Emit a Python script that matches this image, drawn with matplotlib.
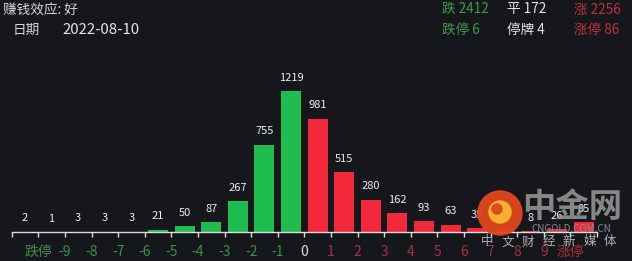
import matplotlib
matplotlib.use("Agg")
import matplotlib.pyplot as plt
from matplotlib.patches import Circle
import numpy as np

plt.rcParams["font.family"] = ["Noto Sans CJK SC", "DejaVu Sans"]

# ── Data ──────────────────────────────────────────────────────────────────────
# bins lie between the labelled edges; first 11 are falling, last 11 rising
down_counts = [2, 1, 3, 3, 3, 21, 50, 87, 267, 755, 1219]
up_counts = [981, 515, 280, 162, 93, 63, 35, 8, 8, 26, 85]
edge_labels = ["", "跌停", "-9", "-8", "-7", "-6", "-5", "-4", "-3", "-2", "-1",
               "0", "1", "2", "3", "4", "5", "6", "7", "8", "9", "涨停", ""]
hidden_labels = [18]  # bin index whose value text is under the watermark

header_left = [("赚钱效应: 好", ""), ("日期", "2022-08-10")]
stats_row1 = [("跌 2412", "down"), ("平 172", "flat"), ("涨 2256", "up")]
stats_row2 = [("跌停 6", "down"), ("停牌 4", "flat"), ("涨停 86", "up")]
wm_title = "中金网"
wm_site = "CNGOLD.COM.CN"
wm_slogan = list("中文财经新媒体")

# ── Style ─────────────────────────────────────────────────────────────────────
BG = "#15171c"
GREEN_BAR = "#1fbd4f"
RED_BAR = "#f4283b"
TXT = {"down": "#3e9b4c", "flat": "#e6e6e6", "up": "#c3303d"}
TICK_DOWN = "#3f8f4b"
TICK_UP = "#a8303c"

W, H = 632, 261
fig = plt.figure(figsize=(W / 100, H / 100), dpi=100, facecolor=BG)

# axes: x 0..22 spans pixel 11.7..597, baseline at pixel y=232
ax_left, ax_right = 11.7 / W, 597 / W
ax_bottom = (H - 232) / H
ax_h_px = 192
ax = fig.add_axes([ax_left, ax_bottom, ax_right - ax_left, ax_h_px / H])
ax.set_facecolor(BG)

values = down_counts + up_counts
colors = [GREEN_BAR] * len(down_counts) + [RED_BAR] * len(up_counts)
x = np.arange(len(values)) + 0.5

ax.bar(x, values, width=0.75, color=colors, zorder=2)
for i, (xi, v) in enumerate(zip(x, values)):
    if i in hidden_labels:
        continue
    ax.annotate(str(v), (xi, v), xytext=(0, 6), textcoords="offset points",
                ha="center", va="bottom", fontsize=8, color="#eeeeee", zorder=3)

ax.set_xlim(0, len(values))
ax.set_ylim(0, max(values) * ax_h_px / 141)
ax.set_xticks(np.arange(len(edge_labels)))
ax.set_xticklabels(edge_labels, fontsize=10)
for i, lbl in enumerate(ax.get_xticklabels()):
    if i < 11:
        lbl.set_color(TICK_DOWN)
    elif i == 11:
        lbl.set_color("#e0e0e0")
    else:
        lbl.set_color(TICK_UP)
ax.tick_params(axis="x", direction="out", length=3.5, width=1.0, color="#dddddd", pad=6)
ax.set_yticks([])
for s in ("top", "right", "left"):
    ax.spines[s].set_visible(False)
ax.spines["bottom"].set_color("#dddddd")
ax.spines["bottom"].set_linewidth(1.0)

# ── Header texts ──────────────────────────────────────────────────────────────
def fx(px):
    return px / W

def fy(py):
    return 1 - py / H

fig.text(fx(3), fy(10), header_left[0][0], fontsize=9.8, color="#d4d4d4", va="center")
fig.text(fx(13), fy(30), header_left[1][0], fontsize=9.8, color="#d4d4d4", va="center")
fig.text(fx(62), fy(30), header_left[1][1], fontsize=10.8, color="#e6e6e6", va="center")

for xs, (t, k) in zip((442, 507, 574), stats_row1):
    fig.text(fx(xs), fy(9.5), t, fontsize=9.8, color=TXT[k], va="center")
for xs, (t, k) in zip((442, 507, 574), stats_row2):
    fig.text(fx(xs), fy(29.5), t, fontsize=9.8, color=TXT[k], va="center")

# ── Watermark ─────────────────────────────────────────────────────────────────
wm = fig.add_axes([0, 0, 1, 1], facecolor="none")
wm.set_xlim(0, W)
wm.set_ylim(H, 0)
wm.axis("off")
wm.add_patch(Circle((500, 213), 22, color="#e0461c", alpha=0.95, zorder=5))
wm.add_patch(Circle((500, 212), 11, color="#f7b733", alpha=0.95, zorder=6))
wm.add_patch(Circle((497, 209), 5, color="#e0461c", alpha=0.95, zorder=7))
wm.text(572, 208, wm_title, fontsize=24, fontweight="bold", color="#9a9a9a",
        alpha=0.85, ha="center", va="center", zorder=5)
wm.text(571, 229, wm_site, fontsize=7, color="#8a8a8a",
        ha="center", va="center", zorder=5)
for k, ch in enumerate(wm_slogan):
    wm.text(487 + k * 20.5, 242, ch, fontsize=9, color="#b0b0b0",
            ha="center", va="center", zorder=5)

fig.savefig("out.png", dpi=100, facecolor=BG)
